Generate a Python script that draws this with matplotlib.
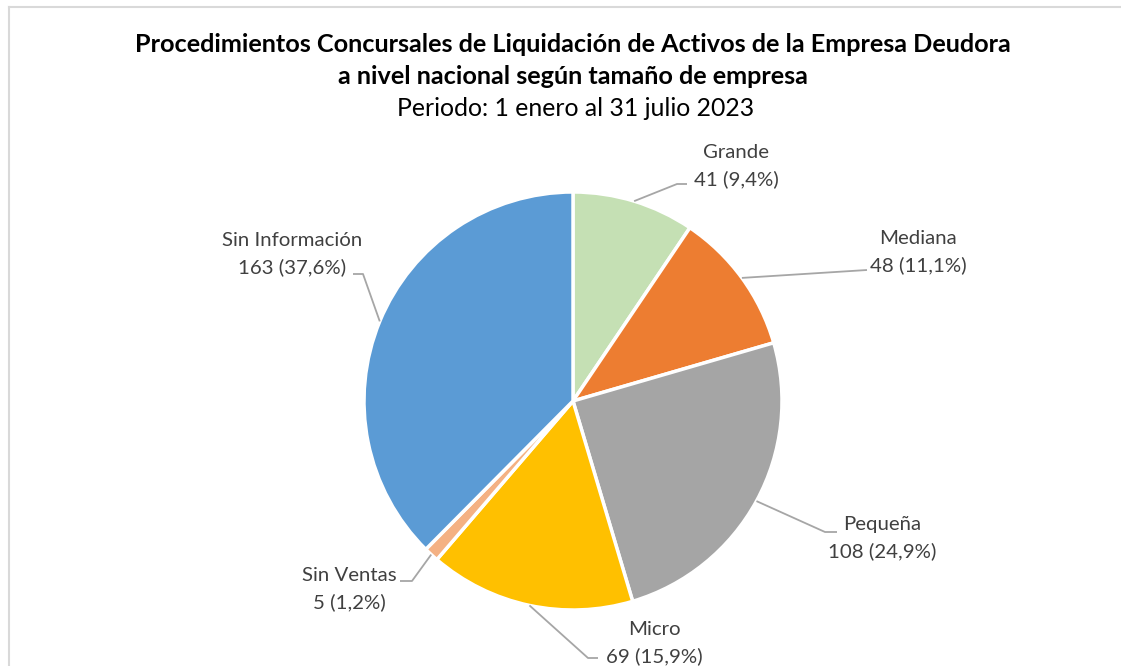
import numpy as np
import matplotlib.pyplot as plt
from matplotlib.lines import Line2D

plt.rcParams['font.family'] = ['Lato', 'DejaVu Sans']

# data
categorias = ['Grande', 'Mediana', 'Pequeña', 'Micro', 'Sin Ventas', 'Sin Información']
valores = [41, 48, 108, 69, 5, 163]
colores = ['#C5E0B4', '#ED7D31', '#A5A5A5', '#FFC000', '#F4B183', '#5B9BD5']

W, H = 1121, 666
cx, cy, R = 573, 401, 209   # pie centre / radius in pixels (y down)

# label block centre, elbow point, end of horizontal stub (pixels, y down)
lab_pos = [(736, 166), (918, 252), (882, 538), (654, 643), (349, 589), (292, 254)]
elbows = [(677, 184), (867, 270), (825, 532), (588, 658), (412, 581), (363, 274)]
stubs = [(687, 184), (867, 270), (837, 532), (598, 658), (400, 581), (353, 274)]


def py(y):
    return H - y


fig = plt.figure(figsize=(W / 100, H / 100), dpi=100)
ax = fig.add_axes([0, 0, 1, 1])

wedges, _ = ax.pie(valores, colors=colores, startangle=90, counterclock=False,
                   center=(cx, py(cy)), radius=R,
                   wedgeprops=dict(edgecolor='white', linewidth=2.5))
ax.set_xlim(0, W)
ax.set_ylim(0, H)
ax.axis('off')

total = sum(valores)
for w, cat, v, lp, el, st in zip(wedges, categorias, valores, lab_pos, elbows, stubs):
    ang = np.deg2rad((w.theta1 + w.theta2) / 2)
    x0 = cx + R * np.cos(ang)
    y0 = py(cy) + R * np.sin(ang)
    ax.plot([x0, el[0], st[0]], [y0, py(el[1]), py(st[1])],
            color='#A6A6A6', lw=1.3, solid_capstyle='butt')
    pct = f"{v / total * 100:.1f}".replace('.', ',')
    ax.text(lp[0], py(lp[1]), f"{cat}\n{v} ({pct}%)", ha='center', va='center',
            fontsize=14.7, color='#404040', linespacing=1.62)

# titles
fig.text(573 / W, 1 - 45 / H, 'Procedimientos Concursales de Liquidación de Activos de la Empresa Deudora',
         ha='center', va='center', fontsize=18.2, fontweight='bold', color='black')
fig.text(573 / W, 1 - 77 / H, 'a nivel nacional según tamaño de empresa',
         ha='center', va='center', fontsize=18.2, fontweight='bold', color='black')
fig.text(576 / W, 1 - 108 / H, 'Periodo: 1 enero al 31 julio 2023',
         ha='center', va='center', fontsize=17.8, color='black')

# chart frame (top and left edges visible)
fig.add_artist(Line2D([9 / W, 1], [1 - 7 / H, 1 - 7 / H], transform=fig.transFigure,
                      color='#D9D9D9', lw=1.5))
fig.add_artist(Line2D([9 / W, 9 / W], [0, 1 - 7 / H], transform=fig.transFigure,
                      color='#D9D9D9', lw=1.5))

fig.savefig('out.png', dpi=100)
